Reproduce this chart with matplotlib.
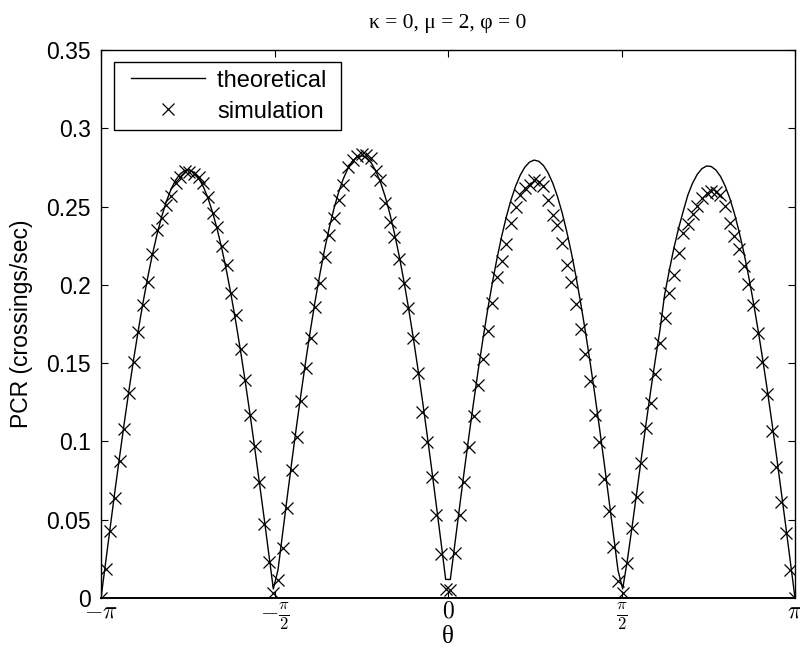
import numpy as np
import matplotlib
matplotlib.use("Agg")
import matplotlib.pyplot as plt
from matplotlib.legend_handler import HandlerLine2D

# theta grid: 150 equally spaced samples on [-pi, pi]
theta = np.linspace(-np.pi, np.pi, 150)

# theoretical PCR, one list per arch
theory_a1 = [0, 0.0230, 0.0459, 0.0685, 0.0905, 0.1119, 0.1326, 0.1523, 0.1709, 0.1883,
             0.2043, 0.2189, 0.2319, 0.2433, 0.2530, 0.2608, 0.2668, 0.2709, 0.2731, 0.2734,
             0.2717, 0.2680, 0.2625, 0.2551, 0.2459, 0.2349, 0.2223, 0.2081, 0.1924, 0.1753,
             0.1570, 0.1376, 0.1172, 0.0959, 0.0740, 0.0516, 0.0288, 0.0058]
theory_a2 = [0.0179, 0.0416, 0.0649, 0.0879, 0.1102, 0.1317, 0.1523, 0.1718, 0.1901, 0.2070,
             0.2225, 0.2364, 0.2485, 0.2590, 0.2676, 0.2743, 0.2790, 0.2817, 0.2825, 0.2812,
             0.2780, 0.2728, 0.2656, 0.2565, 0.2456, 0.2330, 0.2188, 0.2029, 0.1856, 0.1670,
             0.1472, 0.1264, 0.1047, 0.0822, 0.0591, 0.0357, 0.0119]
theory_a3 = [0.0118, 0.0353, 0.0585, 0.0814, 0.1036, 0.1251, 0.1458, 0.1654, 0.1838, 0.2009,
             0.2166, 0.2307, 0.2432, 0.2540, 0.2629, 0.2700, 0.2752, 0.2784, 0.2797, 0.2789,
             0.2762, 0.2715, 0.2649, 0.2564, 0.2461, 0.2340, 0.2203, 0.2050, 0.1882, 0.1701,
             0.1508, 0.1304, 0.1091, 0.0870, 0.0643, 0.0411, 0.0177]
theory_a4 = [0.0058, 0.0240, 0.0450, 0.0670, 0.0890, 0.1110, 0.1320, 0.1520, 0.1710, 0.1935,
             0.2090, 0.2235, 0.2360, 0.2470, 0.2574, 0.2649, 0.2705, 0.2742, 0.2759, 0.2756,
             0.2734, 0.2693, 0.2632, 0.2553, 0.2455, 0.2340, 0.2209, 0.2062, 0.1900, 0.1724,
             0.1537, 0.1338, 0.1130, 0.0914, 0.0691, 0.0463, 0.0232, 0]

# simulated PCR, one list per arch
sim_a1 = [0, 0.0185, 0.0428, 0.0639, 0.0875, 0.108, 0.131, 0.151, 0.170, 0.187,
          0.202, 0.220, 0.235, 0.243, 0.251, 0.257, 0.265, 0.269, 0.273, 0.272,
          0.271, 0.269, 0.265, 0.256, 0.246, 0.237, 0.225, 0.213, 0.195, 0.181,
          0.159, 0.139, 0.117, 0.097, 0.074, 0.047, 0.023, 0.003]
sim_a2 = [0.0115, 0.032, 0.0575, 0.082, 0.103, 0.126, 0.147, 0.166, 0.186, 0.201,
          0.218, 0.232, 0.243, 0.254, 0.264, 0.275, 0.280, 0.282, 0.2835, 0.283,
          0.281, 0.273, 0.267, 0.252, 0.240, 0.2305, 0.2165, 0.201, 0.185, 0.166,
          0.144, 0.119, 0.0996, 0.077, 0.053, 0.028, 0.006]
sim_a3 = [0.005, 0.0285, 0.053, 0.0743, 0.0966, 0.116, 0.136, 0.1524, 0.1705, 0.1886,
          0.205, 0.2154, 0.226, 0.2397, 0.25, 0.2574, 0.2617, 0.264, 0.267, 0.266,
          0.263, 0.254, 0.2445, 0.238, 0.2265, 0.2127, 0.202, 0.188, 0.1716, 0.156,
          0.1388, 0.1169, 0.0998, 0.0758, 0.0557, 0.0328, 0.011]
sim_a4 = [0.0034, 0.0222, 0.0445, 0.0647, 0.086, 0.1084, 0.1247, 0.143, 0.163, 0.1786,
          0.1946, 0.2062, 0.2205, 0.2333, 0.2388, 0.2452, 0.2503, 0.2552, 0.2588, 0.26,
          0.2594, 0.2574, 0.2503, 0.2397, 0.2312, 0.2226, 0.212, 0.2005, 0.1871, 0.169,
          0.1509, 0.1303, 0.1069, 0.0835, 0.0615, 0.0417, 0.0179, 0]

pcr_theory = theory_a1 + theory_a2 + theory_a3 + theory_a4
pcr_sim = sim_a1 + sim_a2 + sim_a3 + sim_a4

xticks = [-np.pi, -np.pi / 2, 0, np.pi / 2, np.pi]
xticklabels = [r'$-\pi$', r'$-\frac{\pi}{2}$', r'$0$', r'$\frac{\pi}{2}$', r'$\pi$']
yticks = [0, 0.05, 0.1, 0.15, 0.2, 0.25, 0.3, 0.35]
yticklabels = ['0', '0.05', '0.1', '0.15', '0.2', '0.25', '0.3', '0.35']

plt.rcParams['font.family'] = ['Liberation Sans', 'DejaVu Sans']
plt.rcParams['mathtext.fontset'] = 'cm'

fig = plt.figure(figsize=(8.0, 6.51), dpi=100)
ax = fig.add_axes([101 / 800, 1 - 598 / 651, 694 / 800, 548 / 651])

ax.plot(theta, pcr_theory, '-', color='black', lw=1.0, label='theoretical ')
ax.plot(theta, pcr_sim, 'x', color='black', ms=8, mew=0.9, label='simulation')

ax.set_xlim(-np.pi, np.pi)
ax.set_ylim(0, 0.35)
ax.set_xticks(xticks)
ax.set_xticklabels(xticklabels, fontsize=17)
ax.set_yticks(yticks)
ax.set_yticklabels(yticklabels, fontsize=16.5)
ax.tick_params(direction='in', length=5, width=0.8, top=True, right=True)
ax.tick_params(axis='y', pad=7.5)
ax.tick_params(axis='x', pad=1.5)
for s in ax.spines.values():
    s.set_linewidth(1.0)
ax.spines['bottom'].set_linewidth(1.4)

ax.set_xlabel('θ', family=['Liberation Serif', 'DejaVu Serif'], fontsize=18, labelpad=-4)
ax.set_ylabel('PCR (crossings/sec)', fontsize=16.5, labelpad=9)
ax.set_title('κ = 0, μ = 2, φ = 0', family=['Liberation Serif', 'DejaVu Serif'],
             fontsize=15.5, pad=16)

fs = 17
hmap = {ln: HandlerLine2D(xpad=0.4) for ln in ax.get_lines()}
leg = ax.legend(loc='upper left', bbox_to_anchor=(0.0187, 0.978), fontsize=fs,
                frameon=True, fancybox=False, edgecolor='black', framealpha=1,
                borderpad=0.32, labelspacing=0.38, handlelength=3.55, handletextpad=0.5,
                borderaxespad=0.0, handler_map=hmap)
leg.get_frame().set_linewidth(1.0)

fig.savefig('out.png', dpi=100)
